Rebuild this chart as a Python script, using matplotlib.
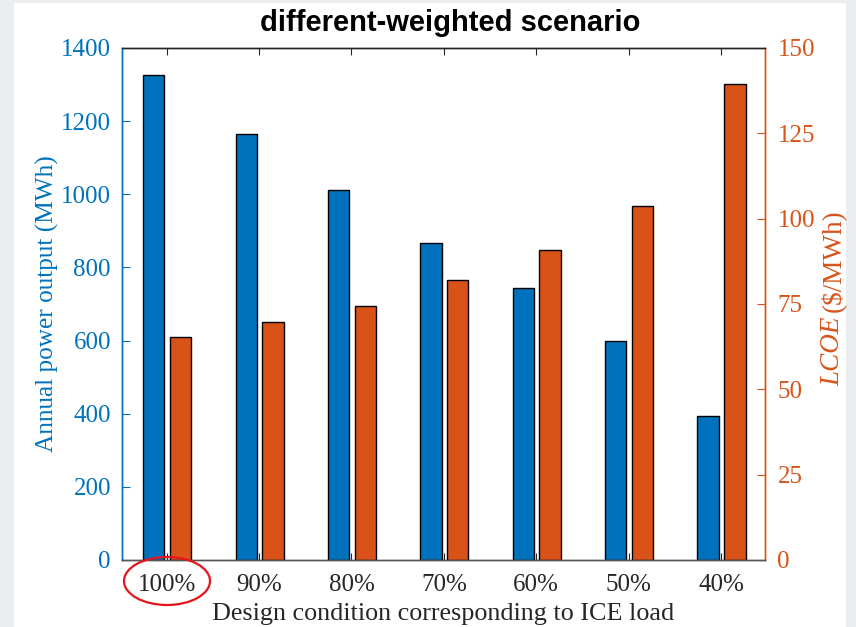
import matplotlib
matplotlib.use("Agg")
import matplotlib.pyplot as plt
import numpy as np
from matplotlib.patches import Ellipse, Rectangle

# data
categories = ["100%", "90%", "80%", "70%", "60%", "50%", "40%"]
power_mwh = [1327, 1165, 1012, 868, 743, 600, 394]
lcoe = [65.3, 69.7, 74.5, 81.9, 90.7, 103.7, 139.5]

blue = "#0072BD"
orange = "#D95319"
serif = "Liberation Serif"

fig = plt.figure(figsize=(8.56, 6.27), dpi=100)
fig.patch.set_facecolor("#e9edef")
# white page area inside the grey frame
fig.patches.append(Rectangle((14 / 856, 0), 832 / 856, 1 - 3 / 627,
                             transform=fig.transFigure, facecolor="white",
                             edgecolor="none", zorder=-10))

ax1 = fig.add_axes([122 / 856, 1 - 560 / 627, 643 / 856, 512 / 627])
ax2 = ax1.twinx()

x = np.arange(1, len(categories) + 1)
ax1.bar(x - 0.14, power_mwh, width=0.23, color=blue, edgecolor="black", linewidth=1.0)
ax2.bar(x + 0.15, lcoe, width=0.23, color=orange, edgecolor="black", linewidth=1.0)

ax1.set_xlim(0.516, 7.476)
ax1.set_ylim(0, 1400)
ax2.set_ylim(0, 150)
ax1.set_yticks(range(0, 1401, 200))
ax2.set_yticks(range(0, 151, 25))
ax1.set_xticks(x)
ax1.set_xticklabels(categories)

fs = 18
for lab in ax1.get_xticklabels() + ax1.get_yticklabels() + ax2.get_yticklabels():
    lab.set_fontfamily(serif)
    lab.set_fontsize(fs)

ax1.tick_params(axis="x", direction="in", length=5, colors="#262626",
                labelcolor="#262626", top=True, pad=10, width=0.8)
ax1.tick_params(axis="y", direction="in", length=6, colors=blue, pad=8, width=0.8)
ax2.tick_params(axis="y", direction="in", length=6, colors=orange, pad=9, width=0.8)

for a in (ax1, ax2):
    a.spines["top"].set_color("#262626")
    a.spines["bottom"].set_color("#555555")
    a.spines["left"].set_color(blue)
    a.spines["right"].set_color(orange)
    for s in a.spines.values():
        s.set_linewidth(1.0)

ax1.set_ylabel("Annual power output (MWh)", fontfamily=serif, fontsize=18.2, color=blue, labelpad=1)
ax1.set_xlabel("Design condition corresponding to ICE load", fontfamily=serif,
               fontsize=18.8, color="#262626", labelpad=5)
fig.text(450 / 856, 1 - 23 / 627, "different-weighted scenario", fontfamily="Liberation Sans",
         fontweight="bold", fontsize=21, ha="center", va="center")

# right label with italic LCOE, built from two texts
t1 = fig.text(833 / 856, 1 - 386 / 627, "LCOE", rotation=90, fontfamily=serif,
              fontstyle="italic", fontsize=19.5, color=orange, ha="center", va="bottom")
fig.canvas.draw()
bb = t1.get_window_extent()
fig.text(833 / 856, (bb.y1 + 5) / 627, "($/MWh)", rotation=90, fontfamily=serif,
         fontsize=19.5, color=orange, ha="center", va="bottom")

# red ring round the first tick label
ring = Ellipse((167 / 856, 1 - 581 / 627), 86 / 856, 48 / 627, transform=fig.transFigure,
               fill=False, edgecolor="#e8141b", linewidth=1.6, clip_on=False)
fig.patches.append(ring)

fig.savefig("out.png", dpi=100, facecolor=fig.get_facecolor())
